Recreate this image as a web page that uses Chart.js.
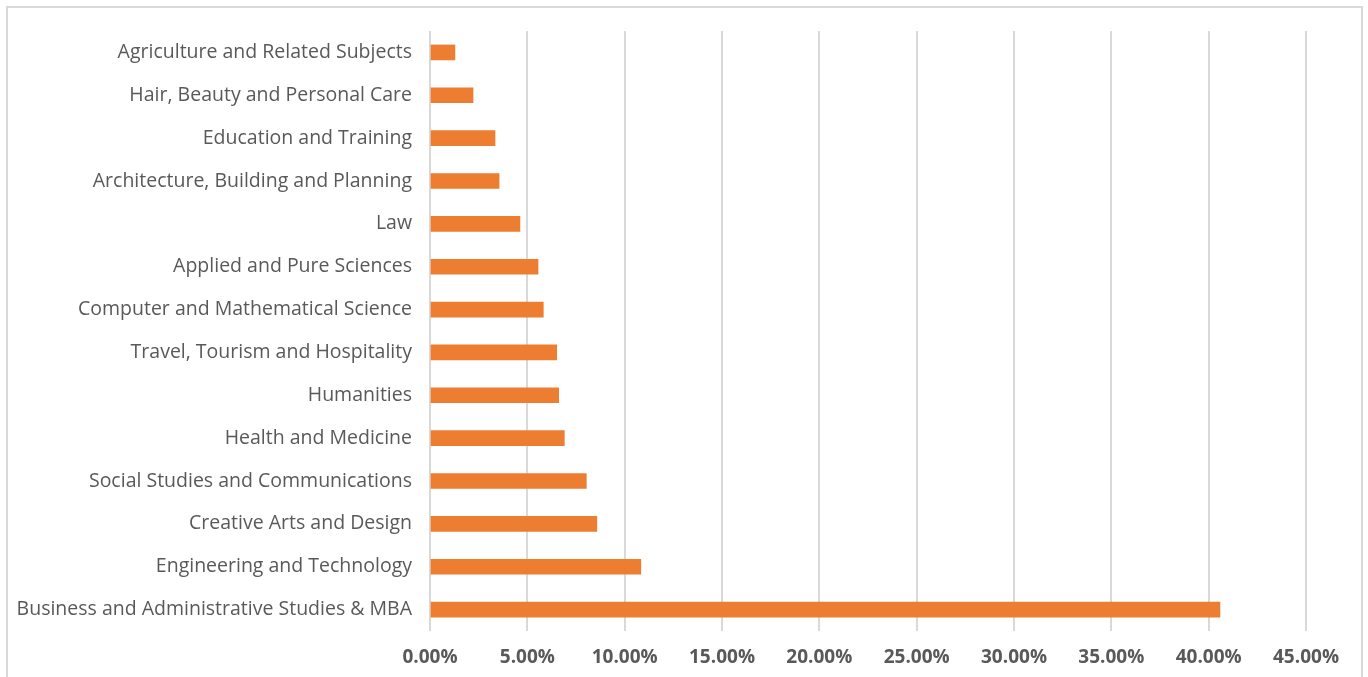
<!DOCTYPE html>
<html>
<head>
<meta charset="utf-8">
<script src="https://cdn.jsdelivr.net/npm/chart.js@4"></script>
<style>
  html, body { margin: 0; padding: 0; background: #fff; }
  #frame {
    position: absolute; left: 6px; top: 6px; width: 1357px; height: 680px;
    border: 2px solid #d9d9d9; box-sizing: border-box;
  }
  #wrap { position: absolute; left: 0; top: 0; width: 1368px; height: 677px; }
</style>
</head>
<body>
<div id="frame"></div>
<div id="wrap"><canvas id="subjectChart"></canvas></div>
<script>
const subjects = [
    'Agriculture and Related Subjects',
    'Hair, Beauty and Personal Care',
    'Education and Training',
    'Architecture, Building and Planning',
    'Law',
    'Applied and Pure Sciences',
    'Computer and Mathematical Science',
    'Travel, Tourism and Hospitality',
    'Humanities',
    'Health and Medicine',
    'Social Studies and Communications',
    'Creative Arts and Design',
    'Engineering and Technology',
    'Business and Administrative Studies & MBA'
];
const shares = [1.28, 2.21, 3.34, 3.55, 4.62, 5.55, 5.82, 6.51, 6.61, 6.9, 8.03, 8.57, 10.83, 40.58];
const xTicks = [0, 5, 10, 15, 20, 25, 30, 35, 40, 45];

const textGrey = '#595959';

const subjectChart = {
    type: 'bar',
    data: {
        labels: subjects,
        datasets: [{
            label: 'Share',
            data: shares,
            backgroundColor: '#ED7D31',
            borderWidth: 0,
            barThickness: 15
        }]
    },
    options: {
        indexAxis: 'y',
        responsive: true,
        maintainAspectRatio: false,
        animation: false,
        layout: {
            padding: { left: 0, top: 31, right: 62, bottom: 0 }
        },
        plugins: {
            legend: { display: false },
            tooltip: { enabled: false }
        },
        scales: {
            x: {
                min: 0,
                max: 45,
                afterBuildTicks: (scale) => {
                    scale.ticks = xTicks.map(v => ({ value: v }));
                },
                afterFit: (scale) => { scale.height = 46; },
                grid: { color: '#d9d9d9', lineWidth: 2, drawTicks: false },
                border: { display: false },
                ticks: {
                    padding: 15,
                    color: textGrey,
                    font: { family: 'Open Sans', size: 19, weight: 'bold' },
                    callback: (v) => v.toFixed(2) + '%'
                }
            },
            y: {
                afterFit: (scale) => { scale.width = 430; },
                grid: { display: false, drawTicks: false },
                border: { display: false },
                ticks: {
                    padding: 18,
                    color: textGrey,
                    font: { family: 'Open Sans', size: 19.5 }
                }
            }
        }
    }
};

const barChart = new Chart(document.getElementById('subjectChart'), subjectChart);
</script>
</body>
</html>
